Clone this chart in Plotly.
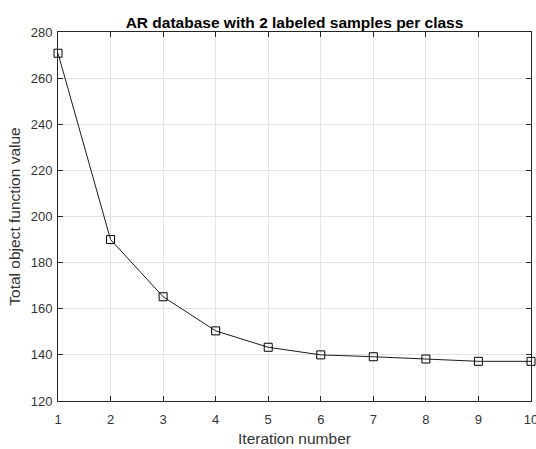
import plotly.graph_objects as go

iterations = [1, 2, 3, 4, 5, 6, 7, 8, 9, 10]
objective = [270.8, 190, 165.2, 150.4, 143.3, 140, 139.2, 138.2, 137.2, 137.2]
y_ticks = [120, 140, 160, 180, 200, 220, 240, 260, 280]

fig = go.Figure()
fig.add_trace(go.Scatter(
    x=iterations, y=objective, mode="lines+markers",
    line=dict(color="#1a1a1a", width=1),
    marker=dict(symbol="square-open", size=8, color="black", line=dict(width=1)),
    cliponaxis=False, showlegend=False,
))

axis_common = dict(
    showline=True, linecolor="#262626", linewidth=1, mirror="ticks",
    ticks="inside", ticklen=5, tickcolor="#262626",
    showgrid=True, gridcolor="#e3e3e3", gridwidth=1, zeroline=False,
    ticklabeloverflow="allow", automargin=False,
    tickfont=dict(family="Liberation Sans, Arial", size=13, color="#333333"),
)

fig.update_layout(
    width=536, height=449,
    margin=dict(l=58, r=5, t=32, b=48, autoexpand=False),
    paper_bgcolor="white", plot_bgcolor="white",
    title=dict(text="<b>AR database with 2 labeled samples per class</b>",
               x=0.5, xref="paper", y=1, yref="paper", yanchor="bottom", pad=dict(b=4),
               font=dict(family="Liberation Sans, Arial", size=15.5, color="black")),
    xaxis=dict(range=[1, 10], tickvals=iterations, ticklabelstandoff=6, **axis_common,
               title=dict(text="Iteration number", standoff=7,
                          font=dict(family="Liberation Sans, Arial", size=15.5, color="#333333"))),
    yaxis=dict(range=[120, 280], tickvals=y_ticks, ticklabelstandoff=2, **axis_common,
               title=dict(text="Total object function value", standoff=6,
                          font=dict(family="Liberation Sans, Arial", size=15.5, color="#333333"))),
)

fig.write_html("out.html")
